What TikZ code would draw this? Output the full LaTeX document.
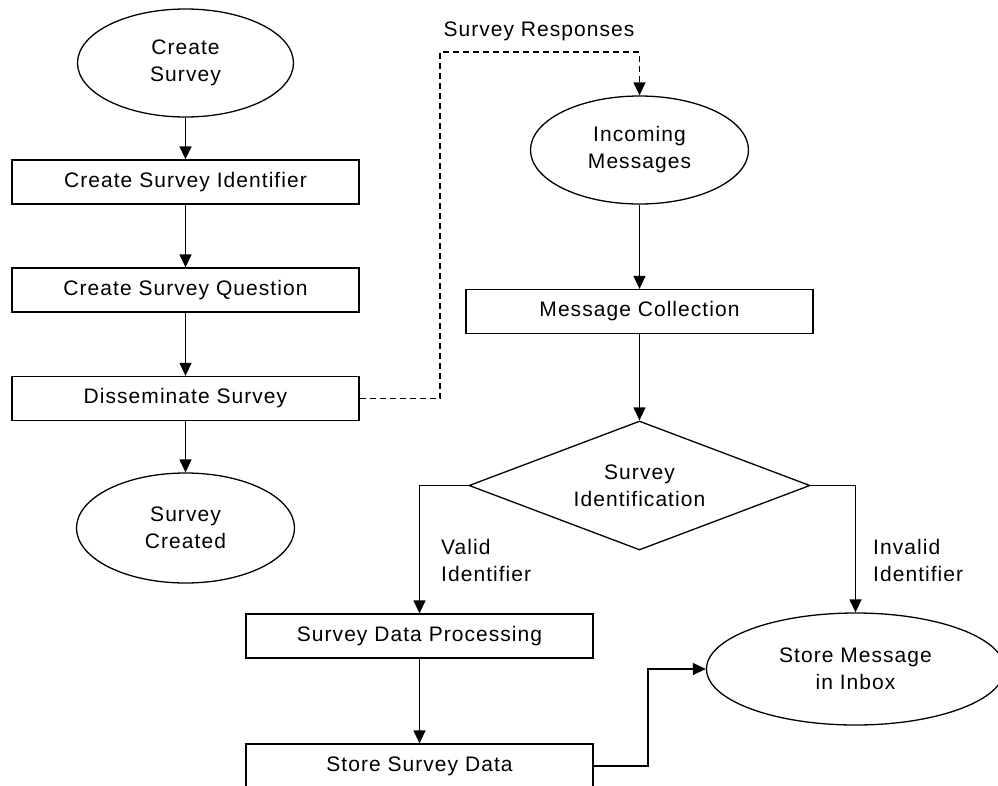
\documentclass[tikz,border=0pt]{standalone}
\usepackage{fontspec}
\setmainfont{Liberation Sans}[LetterSpace=5]
\usetikzlibrary{shapes.geometric,arrows.meta}
\begin{document}
\begin{tikzpicture}[x=1pt,y=-1pt,
  every node/.style={font=\fontsize{21}{27}\selectfont, text=black},
  line/.style={draw=black, line width=1.3pt},
  arr/.style={line, -{Triangle[length=13pt,width=12pt]}},
  dsh/.style={arr, dash pattern=on 6pt off 4pt},
  boxnode/.style={line, rectangle, minimum width=347pt, minimum height=44pt, inner sep=0pt, fill=white},
  ellnode/.style={line, ellipse, inner sep=0pt, align=center, fill=white},
  lab/.style={align=left, anchor=west, inner sep=0pt}
]
\useasboundingbox (0,0) rectangle (998,785);
\clip (0,0) rectangle (998,785);
\fill[white] (0,0) rectangle (998,785);

% left column
\node[ellnode, minimum width=216pt, minimum height=108pt] (cs) at (185.5,63) {Create\\Survey};
\node[boxnode] (csi) at (185.5,182) {Create Survey Identifier};
\node[boxnode] (csq) at (185.5,290) {Create Survey Question};
\node[boxnode] (ds) at (185.5,398.5) {Disseminate Survey};
\node[ellnode, minimum width=218pt, minimum height=110pt] (sc) at (185.5,528) {Survey\\Created};

% right column
\node[ellnode, minimum width=218pt, minimum height=108pt] (im) at (639.5,150) {Incoming\\Messages};
\node[boxnode] (mc) at (639.5,311.5) {Message Collection};
\node[line, diamond, aspect=2.64, minimum width=341pt, minimum height=129pt, inner sep=0pt, align=center] (si) at (639.5,485.5) {Survey\\Identification};
\node[boxnode] (sdp) at (419.5,636) {Survey Data Processing};
\node[boxnode] (ssd) at (419.5,766) {Store Survey Data};
\node[ellnode, minimum width=298pt, minimum height=112pt] (smi) at (855.5,669) {Store Message\\in Inbox};

% labels
\node[inner sep=0pt] (lsr) at (539,31) {Survey Responses};
\node[lab] (lv) at (441,560) {Valid\\Identifier};
\node[lab] (li) at (873,560) {Invalid\\Identifier};

% connectors
\draw[arr] (cs) -- (csi);
\draw[arr] (csi) -- (csq);
\draw[arr] (csq) -- (ds);
\draw[arr] (ds) -- (sc);
\coordinate (d1) at (440,52);
\draw[dsh] (ds.east) -| (d1) -| (im.north);
\draw[arr] (im) -- (mc);
\draw[arr] (mc) -- (si);
\draw[arr] (si.west) -| (sdp.north);
\draw[arr] (si.east) -| (smi.north);
\draw[arr] (sdp) -- (ssd);
\coordinate (k) at (648,766);
\draw[arr] (ssd.east) -- (k) |- (smi.west);
\end{tikzpicture}
\end{document}
